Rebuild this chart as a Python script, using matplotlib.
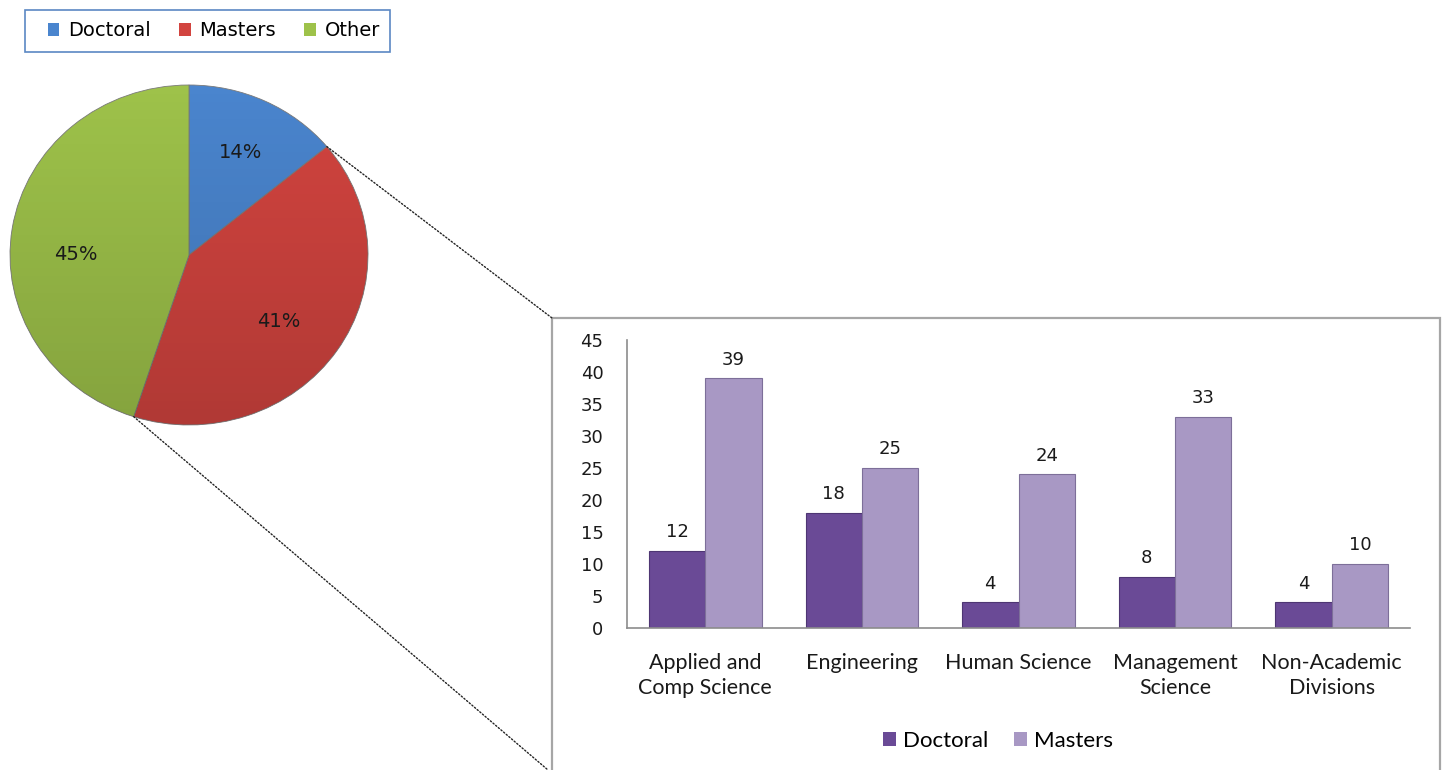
import matplotlib
matplotlib.use("Agg")
import matplotlib.pyplot as plt
import numpy as np
from matplotlib.patches import Rectangle, ConnectionPatch, Patch, Ellipse

# pie data
pie_labels = ["Doctoral", "Masters", "Other"]
pie_values = [14, 41, 45]
pie_colors = ["#4A85CE", "#D2443F", "#9EC24A"]

# bar data
categories = ["Applied and\nComp Science", "Engineering", "Human Science",
              "Management\nScience", "Non-Academic\nDivisions"]
doctoral = [12, 18, 4, 8, 4]
masters = [39, 25, 24, 33, 10]
bar_colors = ["#6A4A96", "#A898C4"]

W, H = 1444, 770
fig = plt.figure(figsize=(W / 100, H / 100), dpi=100)


def px(x0, y0, x1, y1):
    # pixel box (top-left origin) -> figure fraction rect
    return [x0 / W, 1 - y1 / H, (x1 - x0) / W, (y1 - y0) / H]


# ---- pie ----
ax_pie = fig.add_axes(px(10, 85, 368, 425))
wedges, texts, autotexts = ax_pie.pie(
    pie_values, colors=pie_colors, startangle=90, counterclock=False,
    autopct="%d%%", pctdistance=0.67,
    wedgeprops=dict(edgecolor="#7a7a7a", linewidth=0.6),
    textprops=dict(fontsize=14, color="#1a1a1a", family="DejaVu Sans"))
ax_pie.set_aspect("auto")
ax_pie.set_xlim(-1, 1)
ax_pie.set_ylim(-1, 1)
# label spots as in the original
for t, pos in zip(autotexts, [(0.29, 0.60), (0.50, -0.39), (-0.63, 0.0)]):
    t.set_position(pos)
    t.set_zorder(5)
# soft shading: lighter top, darker bottom
grad = np.linspace(0, 1, 256).reshape(-1, 1)
shade = np.zeros((256, 1, 4))
shade[..., 3] = 0.16 * grad
img = ax_pie.imshow(shade, extent=(-1, 1, -1, 1), origin="upper", aspect="auto", zorder=3)
img.set_clip_path(Ellipse((0, 0), 2, 2, transform=ax_pie.transData))

# top legend with its own frame
fig.add_artist(Rectangle((25 / W, 1 - 52 / H), (390 - 25) / W, 42 / H,
                         transform=fig.transFigure, facecolor="white",
                         edgecolor="#5b88c4", linewidth=1.2))
fig.legend(handles=[Patch(facecolor=c, edgecolor="none") for c in pie_colors],
           labels=pie_labels, loc="center", frameon=False,
           bbox_to_anchor=(214 / W, 1 - 31 / H), ncol=3,
           handlelength=0.6, handleheight=0.6, handletextpad=0.45,
           columnspacing=1.45, prop={"family": "DejaVu Sans", "size": 14})

# ---- bar box ----
fig.add_artist(Rectangle((552 / W, 1 - 780 / H), (1440 - 552) / W, (780 - 318) / H,
                         transform=fig.transFigure, facecolor="white",
                         edgecolor="#a6a6a6", linewidth=1.6, zorder=0))

ax = fig.add_axes(px(627, 340, 1410, 628))
x = np.arange(len(categories))
bw = 0.36
b1 = ax.bar(x - bw / 2, doctoral, bw, color=bar_colors[0], edgecolor="#4e3673", linewidth=0.8)
b2 = ax.bar(x + bw / 2, masters, bw, color=bar_colors[1], edgecolor="#7d6f99", linewidth=0.8)
for bars in (b1, b2):
    for r in bars:
        ax.annotate(str(int(r.get_height())), (r.get_x() + r.get_width() / 2, r.get_height()),
                    xytext=(0, 7), textcoords="offset points", ha="center", va="bottom",
                    fontsize=13, family="DejaVu Sans", color="#1a1a1a")
ax.set_ylim(0, 45)
ax.set_xlim(-0.5, len(categories) - 0.5)
ax.set_yticks(range(0, 46, 5))
ax.set_xticks(x)
ax.set_xticklabels(categories, fontsize=15.5, family="Lato", linespacing=1.3)
for t in ax.get_yticklabels():
    t.set_family("DejaVu Sans")
    t.set_fontsize(13)
ax.tick_params(axis="both", length=0, colors="#1a1a1a")
ax.tick_params(axis="y", pad=17)
ax.tick_params(axis="x", pad=18)
for s in ["top", "right"]:
    ax.spines[s].set_visible(False)
for s in ["left", "bottom"]:
    ax.spines[s].set_color("#8c8c8c")
    ax.spines[s].set_linewidth(1.2)
ax.patch.set_alpha(0)

fig.legend(handles=[Patch(facecolor=c, edgecolor="none") for c in bar_colors],
           labels=["Doctoral", "Masters"], loc="center",
           bbox_to_anchor=(998 / W, 1 - 741 / H), ncol=2, frameon=False,
           handlelength=0.6, handleheight=0.6, handletextpad=0.3,
           columnspacing=1.15, prop={"family": "Lato", "size": 16})

# ---- dotted connectors ----
ang1 = np.deg2rad(90 - pie_values[0] * 3.6)
ang2 = np.deg2rad(90 - (pie_values[0] + pie_values[1]) * 3.6)
for ang, (fx, fy) in [(ang1, (552, 318)), (ang2, (548, 770))]:
    fig.add_artist(ConnectionPatch(xyA=(np.cos(ang), np.sin(ang)), coordsA=ax_pie.transData,
                                   xyB=(fx / W, 1 - fy / H), coordsB=fig.transFigure,
                                   linestyle=(0, (1, 1.5)), color="#222222", linewidth=1.0))

fig.savefig("out.png", dpi=100)
